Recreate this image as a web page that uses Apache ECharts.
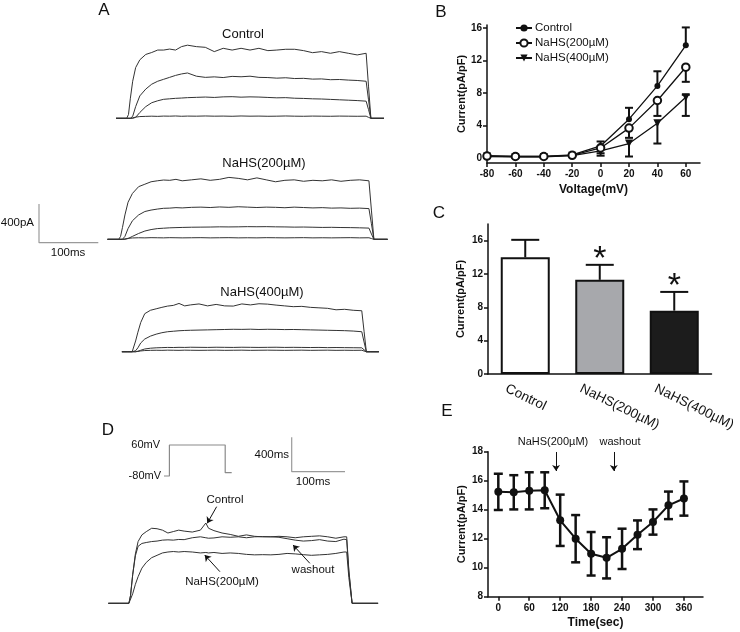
<!DOCTYPE html>
<html><head><meta charset="utf-8">
<script src="https://cdn.jsdelivr.net/npm/echarts@6/dist/echarts.min.js"></script>
<style>html,body{margin:0;padding:0;background:#fff}#c{width:740px;height:632px}</style>
</head><body><div id="c"></div>
<script>
const FONT = 'Arial, "Liberation Sans", Helvetica, sans-serif';

// ---------- Panel A: current traces (ms, pA) ----------
const tA = [0,10,18,21,24,28,33,40,50,60,70,80,90,100,110,120,135,150,165,180,195,210,225,240,255,270,285,300,315,330,345,360,375,390,405,420,424,428,435,450];
const aCtrl1 = [0,0,0,40,200,380,520,600,655,675,700,700,710,700,735,750,735,728,684,718,700,718,700,718,694,700,708,708,694,673,684,667,684,667,650,667,330,0,0,0];
const aCtrl2 = [0,0,0,0,0,20,120,230,300,350,380,400,420,440,455,465,432,420,425,418,430,426,432,420,418,412,416,408,410,402,404,396,398,392,388,380,190,0,0,0];
const aCtrl3 = [0,0,0,0,0,0,10,60,120,160,180,195,200,205,208,212,215,218,214,220,222,217,220,218,214,210,212,206,204,200,198,194,190,186,182,176,90,0,0,0];
const aCtrl4 = [0,0,0,0,0,5,12,18,20,22,20,23,22,24,21,23,22,24,22,23,21,24,22,23,21,22,24,22,21,23,22,21,23,22,21,22,10,0,0,0];
const a200_1 = [0,0,0,30,120,250,380,470,540,565,590,600,608,605,615,600,610,620,605,615,635,625,610,630,610,590,605,610,595,605,600,610,595,605,610,600,300,0,0,0];
const a200_2 = [0,0,0,0,0,30,110,190,250,285,300,310,318,320,325,322,328,330,326,332,328,334,330,326,330,328,324,330,326,322,325,320,322,318,320,315,160,0,0,0];
const a200_3 = [0,0,0,0,0,0,8,30,60,85,100,110,114,118,120,122,124,125,126,128,127,128,130,129,130,128,127,125,126,124,122,123,121,120,118,115,55,0,0,0];
const a200_4 = [0,0,0,0,0,4,10,14,16,15,17,16,15,17,16,15,16,17,15,16,17,15,16,15,17,16,15,16,17,15,16,15,16,17,15,16,8,0,0,0];
const a400_1 = [0,0,0,20,110,200,300,390,425,440,455,468,475,495,470,480,490,470,485,470,468,490,480,492,488,478,470,462,465,455,450,445,430,435,425,420,210,0,0,0];
const a400_2 = [0,0,0,0,10,40,90,130,160,180,195,205,210,215,218,220,222,224,226,228,230,229,231,228,230,229,227,228,226,224,222,220,218,216,212,205,100,0,0,0];
const a400_3 = [0,0,0,0,0,5,15,28,36,40,42,44,43,45,44,46,45,44,46,45,44,46,45,44,45,46,44,45,44,43,44,42,43,42,41,40,20,0,0,0];
const a400_4 = [0,0,0,0,0,3,8,12,14,15,14,16,15,14,16,15,14,15,16,14,15,16,14,15,16,15,14,15,16,14,15,16,14,15,14,15,7,0,0,0];

// scale bar (ms, pA)
const sbX = [0,0,100];
const sbY = [400,0,0];

// ---------- Panel B: I-V ----------
const volt = [-80,-60,-40,-20,0,20,40,60];
const bCtrl = [0.3,0.2,0.2,0.4,1.5,4.8,8.9,13.9];
const bCtrlLo = [0.3,0.2,0.2,0.4,1.5,4.8,8.9,13.9];
const bCtrlHi = [0.4,0.3,0.3,0.5,2.05,6.2,10.7,16.1];
const b200 = [0.25,0.2,0.2,0.35,1.25,3.7,7.1,11.2];
const b200Lo = [0.15,0.1,0.1,0.25,0.6,2.5,5.2,9.4];
const b200Hi = [0.25,0.2,0.2,0.35,1.25,3.7,7.1,11.2];
const b400 = [0.2,0.15,0.15,0.3,0.9,1.8,4.3,7.5];
const b400Lo = [0.1,0.05,0.05,0.2,0.3,0.2,1.8,5.2];
const b400Hi = [0.2,0.15,0.15,0.3,0.9,1.8,4.3,7.8];
const bTickX = [-80,-60,-40,-20,0,20,40,60];
const bTickY = [0,4,8,12,16];
const bNames = ['Control','NaHS(200µM)','NaHS(400µM)'];

// ---------- Panel C: bars ----------
const cCats = ['Control','NaHS(200µM)','NaHS(400µM)'];
const cMean = [14.0,11.3,7.6];
const cErr = [2.1,1.8,2.25];
const cSig = [0,1,1];
const cColors = ['#ffffff','#a7a8ac','#1c1c1c'];
const cTickY = [0,4,8,12,16];

// ---------- Panel D ----------
const tV = [0,10,10,113,113,125];
const vV = [-80,-80,60,60,-65,-65];
const tD = [-20,0,18,21,25,30,35,42,50,60,70,80,90,100,110,120,135,150,160,165,175,190,205,220,235,250,265,280,295,310,325,340,355,370,385,400,415,420,424,430,450,478];
const dCtrl = [0,0,0,80,300,520,650,720,754,790,785,770,740,755,770,760,750,770,845,790,765,740,725,705,720,705,700,700,695,680,665,655,660,670,655,650,675,670,330,0,0,0];
const dWash = [0,0,0,80,300,500,600,630,640,650,655,665,668,665,672,670,690,700,690,685,688,700,695,700,690,700,702,700,705,700,690,700,705,710,700,685,700,700,350,0,0,0];
const dNaHS = [0,0,0,20,100,200,280,370,430,480,505,530,540,545,540,545,540,530,535,530,535,525,530,525,515,510,512,510,515,525,520,512,505,510,515,525,540,540,270,0,0,0];
const dArrowFrom = [[180,1017],[186,333],[352,421]];
const dArrowTo = [[162.6,842],[158,508],[321,614]];

// ---------- Panel E: time course ----------
const tE = [0,30,60,90,120,150,180,210,240,270,300,330,360];
const eMean = [15.23,15.2,15.3,15.34,13.27,12.0,10.96,10.68,11.3,12.27,13.15,14.3,14.77];
const eSD = [1.25,1.18,1.28,1.24,1.77,1.63,1.5,1.42,1.39,0.99,0.87,0.95,1.18];
const eTickX = [0,60,120,180,240,300,360];
const eTickY = [8,10,12,14,16,18];
const eArrowT = [112,224];

// ================= build =================
const chart = echarts.init(document.getElementById('c'));

const grids = [
  {left:116, top:40.3, width:268, height:82.9},      // 0 A control
  {left:107.5, top:161.3, width:280.1, height:82.9}, // 1 A 200
  {left:121.9, top:273.7, width:257, height:82.9},   // 2 A 400
  {left:39, top:204, width:59.3, height:38.7},       // 3 A scale
  {left:487, top:25, width:213, height:138},         // 4 B
  {left:488, top:224, width:223.5, height:150},      // 5 C
  {left:164, top:445, width:67.7, height:31},        // 6 D volt
  {left:291.7, top:437.3, width:53.3, height:34.4},  // 7 D scale
  {left:108.3, top:503.55, width:269.8, height:104.5},// 8 D traces
  {left:488, top:451.7, width:215, height:145}       // 9 E
];

function hid(gi, min, max){ return {type:'value', gridIndex:gi, min:min, max:max, show:false, splitLine:{show:false}}; }
const axLine = {show:true, onZero:false, lineStyle:{color:'#111', width:1.5}};
function tick(vals){ return {show:true, length:4, lineStyle:{color:'#111', width:1.5}, customValues:vals}; }
function lab(vals, extra){ return Object.assign({customValues:vals, color:'#111', fontSize:10, fontWeight:'bold', fontFamily:FONT, margin:5}, extra||{}); }
const nameY = {color:'#111', fontSize:11, fontWeight:'bold', fontFamily:FONT};
const nameX = {color:'#111', fontSize:12, fontWeight:'bold', fontFamily:FONT};

const xAxes = [
  hid(0,0,450), hid(1,0,450), hid(2,0,450), hid(3,0,100),
  {type:'value', gridIndex:4, min:-80, max:70, axisLine:axLine, axisTick:tick(bTickX), axisLabel:lab(bTickX,{margin:6}), splitLine:{show:false},
   name:'Voltage(mV)', nameLocation:'middle', nameGap:21, nameTextStyle:nameX},
  {type:'value', gridIndex:5, min:-0.5, max:2.5, axisLine:axLine, axisTick:{show:false},
   axisLabel:{customValues:[-0.255,0.745,1.745], formatter:function(v){return cCats[Math.round(v+0.255)];}, rotate:-26, align:'left', verticalAlign:'middle', margin:14, color:'#111', fontSize:13.5, fontFamily:FONT},
   splitLine:{show:false}},
  hid(6,0,125), hid(7,0,100), hid(8,-20,478),
  {type:'value', gridIndex:9, min:-20, max:397, axisLine:axLine, axisTick:tick(eTickX), axisLabel:lab(eTickX,{margin:7}), splitLine:{show:false},
   name:'Time(sec)', nameLocation:'middle', nameGap:20, nameTextStyle:nameX}
];
const yAxes = [
  hid(0,-50,800), hid(1,-50,800), hid(2,-50,800), hid(3,0,400),
  {type:'value', gridIndex:4, min:-0.6, max:16.4, axisLine:axLine, axisTick:tick(bTickY), axisLabel:lab(bTickY), splitLine:{show:false},
   name:'Current(pA/pF)', nameLocation:'middle', nameGap:19, nameTextStyle:nameY},
  {type:'value', gridIndex:5, min:0, max:18, axisLine:axLine, axisTick:tick(cTickY), axisLabel:lab(cTickY), splitLine:{show:false},
   name:'Current(pA/pF)', nameLocation:'middle', nameGap:22, nameTextStyle:nameY},
  hid(6,-80,60), hid(7,0,400), hid(8,-50,1050),
  {type:'value', gridIndex:9, min:8, max:18, axisLine:axLine, axisTick:tick(eTickY), axisLabel:lab(eTickY), splitLine:{show:false},
   name:'Current(pA/pF)', nameLocation:'middle', nameGap:21, nameTextStyle:nameY}
];

function pairs(xs, ys){ return xs.map(function(x,i){ return [x, ys[i]]; }); }
function trace(gi, xs, ys, color, width){
  return {type:'line', xAxisIndex:gi, yAxisIndex:gi, data:pairs(xs,ys), symbol:'none', showSymbol:false,
    lineStyle:{color:color||'#333', width:width||1}, silent:true, clip:false, z:1};
}
function errRender(capW, lw){
  return function(params, api){
    const x = api.value(0), v = api.value(1), lo = api.value(2), hi = api.value(3);
    const pl = api.coord([x, lo]), ph = api.coord([x, hi]);
    const st = {stroke:'#111', lineWidth:lw};
    const ch = [{type:'line', shape:{x1:pl[0], y1:pl[1], x2:ph[0], y2:ph[1]}, style:st}];
    if (lo < v) ch.push({type:'line', shape:{x1:pl[0]-capW/2, y1:pl[1], x2:pl[0]+capW/2, y2:pl[1]}, style:st});
    if (hi > v) ch.push({type:'line', shape:{x1:ph[0]-capW/2, y1:ph[1], x2:ph[0]+capW/2, y2:ph[1]}, style:st});
    return {type:'group', children:ch};
  };
}
function errData(xs, v, lo, hi){ return xs.map(function(x,i){ return [x, v[i], lo[i], hi[i]]; }); }

const arrowStyle = {silent:true, symbol:['none','arrow'], symbolSize:6, lineStyle:{color:'#111', width:1, type:'solid'}, label:{show:false}, emphasis:{disabled:true}};

const series = [
  // A
  trace(0,tA,aCtrl4), trace(0,tA,aCtrl3), trace(0,tA,aCtrl2), trace(0,tA,aCtrl1),
  trace(1,tA,a200_4), trace(1,tA,a200_3), trace(1,tA,a200_2), trace(1,tA,a200_1),
  trace(2,tA,a400_4), trace(2,tA,a400_3), trace(2,tA,a400_2), trace(2,tA,a400_1),
  trace(3,sbX,sbY,'#9a9a9a',1.2),
  // B
  {type:'custom', xAxisIndex:4, yAxisIndex:4, renderItem:errRender(8,2), data:errData(volt,bCtrl,bCtrlLo,bCtrlHi), z:2, silent:true},
  {type:'custom', xAxisIndex:4, yAxisIndex:4, renderItem:errRender(8,2), data:errData(volt,b200,b200Lo,b200Hi), z:2, silent:true},
  {type:'custom', xAxisIndex:4, yAxisIndex:4, renderItem:errRender(8,2), data:errData(volt,b400,b400Lo,b400Hi), z:2, silent:true},
  {type:'line', name:bNames[0], xAxisIndex:4, yAxisIndex:4, data:pairs(volt,bCtrl), symbol:'circle', symbolSize:6,
   lineStyle:{color:'#111', width:1.3}, itemStyle:{color:'#111'}, z:3},
  {type:'line', name:bNames[1], xAxisIndex:4, yAxisIndex:4, data:pairs(volt,b200), symbol:'emptyCircle', symbolSize:7.5,
   lineStyle:{color:'#111', width:1.3}, itemStyle:{color:'#111', borderWidth:2}, z:4},
  {type:'line', name:bNames[2], xAxisIndex:4, yAxisIndex:4, data:pairs(volt,b400), symbol:'triangle', symbolRotate:180, symbolSize:8,
   lineStyle:{color:'#111', width:1.3}, itemStyle:{color:'#111'}, z:3},
  // C
  {type:'bar', xAxisIndex:5, yAxisIndex:5, barWidth:49,
   data:cMean.map(function(v,i){ return {value:[i,v], itemStyle:{color:cColors[i]}}; }),
   itemStyle:{borderColor:'#111', borderWidth:2}, z:2, silent:true},
  {type:'custom', xAxisIndex:5, yAxisIndex:5, z:3, silent:true,
   data:cMean.map(function(v,i){ return [i, v, v, v+cErr[i], cSig[i]]; }),
   renderItem:function(params, api){
     const x = api.value(0), v = api.value(1), hi = api.value(3), sig = api.value(4);
     const p0 = api.coord([x, v]), p1 = api.coord([x, hi]);
     const st = {stroke:'#111', lineWidth:2};
     const ch = [
       {type:'line', shape:{x1:p0[0], y1:p0[1], x2:p1[0], y2:p1[1]}, style:st},
       {type:'line', shape:{x1:p1[0]-14, y1:p1[1], x2:p1[0]+14, y2:p1[1]}, style:st}
     ];
     if (sig) ch.push({type:'text', x:p1[0], y:p1[1]-5, style:{text:'*', fontSize:34, fontFamily:FONT, fill:'#111', align:'center', verticalAlign:'middle'}});
     return {type:'group', children:ch};
   }},
  // D
  trace(6,tV,vV,'#8a8a8a',1.2),
  trace(7,sbX,sbY,'#9a9a9a',1.2),
  trace(8,tD,dNaHS), trace(8,tD,dWash),
  Object.assign(trace(8,tD,dCtrl), {markLine:Object.assign({}, arrowStyle, {data:dArrowFrom.map(function(f,i){ return [{coord:f},{coord:dArrowTo[i]}]; })})}),
  // E
  {type:'custom', xAxisIndex:9, yAxisIndex:9, renderItem:errRender(9,2.5),
   data:errData(tE, eMean, eMean.map(function(m,i){return m-eSD[i];}), eMean.map(function(m,i){return m+eSD[i];})), z:2, silent:true},
  {type:'line', xAxisIndex:9, yAxisIndex:9, data:pairs(tE,eMean), symbol:'circle', symbolSize:8,
   lineStyle:{color:'#111', width:2}, itemStyle:{color:'#111'}, z:3,
   markLine:Object.assign({}, arrowStyle, {data:eArrowT.map(function(t){ return [{coord:[t,17.98]},{coord:[t,16.67]}]; })})}
];

function txt(t, x, y, fs, align, weight){
  return {type:'text', x:x, y:y, silent:true, style:{text:t, fill:'#111', fontSize:fs, fontFamily:FONT, fontWeight:weight||'normal', align:align||'center', verticalAlign:'middle'}};
}
const graphics = [
  txt('A',104,10,17), txt('B',441,12,17), txt('C',439,213,17), txt('D',108,430,17), txt('E',447,411,17),
  txt('Control',243,34,13), txt('NaHS(200µM)',264,163,13), txt('NaHS(400µM)',262,292,13),
  txt('400pA',34,223,11.5,'right'), txt('100ms',68,253,11.5),
  txt('60mV',160,445,11,'right'), txt('-80mV',161,476,11,'right'),
  txt('400ms',289,455,11.5,'right'), txt('100ms',313,482,11.5),
  txt('Control',225,500,11.5), txt('NaHS(200µM)',222,582,11.5), txt('washout',313,570,11.5),
  txt('NaHS(200µM)',553,442,11), txt('washout',620,442,11)
];

chart.setOption({
  animation:false,
  backgroundColor:'#ffffff',
  textStyle:{fontFamily:FONT},
  grid:grids,
  xAxis:xAxes,
  yAxis:yAxes,
  legend:{data:bNames, left:510, top:17, orient:'vertical', itemWidth:16, itemHeight:9, itemGap:3, selectedMode:false,
    textStyle:{fontSize:11.5, fontFamily:FONT, color:'#111', padding:[0,0,0,-2]}},
  series:series,
  graphic:graphics
});
</script>
</body></html>
